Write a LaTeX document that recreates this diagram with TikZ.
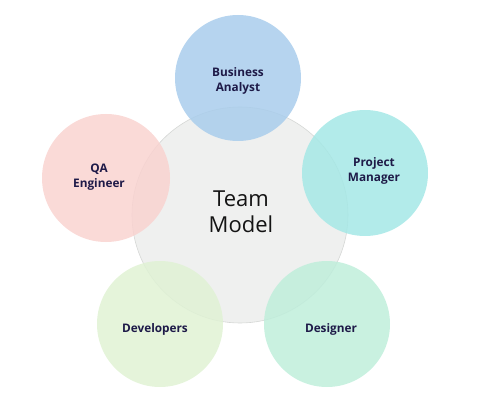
\documentclass[tikz,border=0pt]{standalone}
\usepackage{fontspec}
\setmainfont{Open Sans}
\definecolor{ctrfill}{HTML}{EFF0EF}
\definecolor{ctrline}{HTML}{D5D7D5}
\definecolor{bafill}{HTML}{A9CDEC}
\definecolor{pmfill}{HTML}{A5E8E6}
\definecolor{qafill}{HTML}{F9D3D0}
\definecolor{devfill}{HTML}{E0F2D4}
\definecolor{desfill}{HTML}{BFEEDB}
\definecolor{txtdark}{HTML}{1E1A48}
\begin{document}
\begin{tikzpicture}[x=1pt,y=-1pt,
  rolecircle/.style={circle,draw=none,minimum size=126pt,inner sep=0pt,fill opacity=0.85},
  roletext/.style={font=\bfseries\fontsize{11.8}{15}\selectfont,text=txtdark,align=center}]
\useasboundingbox (0,0) rectangle (485,409);
\node[circle,minimum size=216pt,inner sep=0pt,fill=ctrfill,draw=ctrline,line width=0.6pt] (ctr) at (240,215) {};
\node[rolecircle,fill=bafill] (ba) at (238,78) {};
\node[rolecircle,fill=pmfill] (pm) at (365,173) {};
\node[rolecircle,fill=qafill,minimum size=128pt] (qa) at (106,178) {};
\node[rolecircle,fill=devfill] (dev) at (160,324) {};
\node[rolecircle,fill=desfill] (des) at (327,324) {};
\node[roletext] (tba) at (238,80.5) {Business\\Analyst};
\node[roletext] (tpm) at (374,171) {Project\\Manager};
\node[roletext] (tqa) at (99,177) {QA\\Engineer};
\node[roletext] (tdev) at (155,329) {Developers};
\node[roletext] (tdes) at (331,329) {Designer};
\node[font=\fontsize{22}{26.5}\selectfont,text=black!92,align=center] (tctr) at (241,212) {Team\\Model};
\end{tikzpicture}
\end{document}
